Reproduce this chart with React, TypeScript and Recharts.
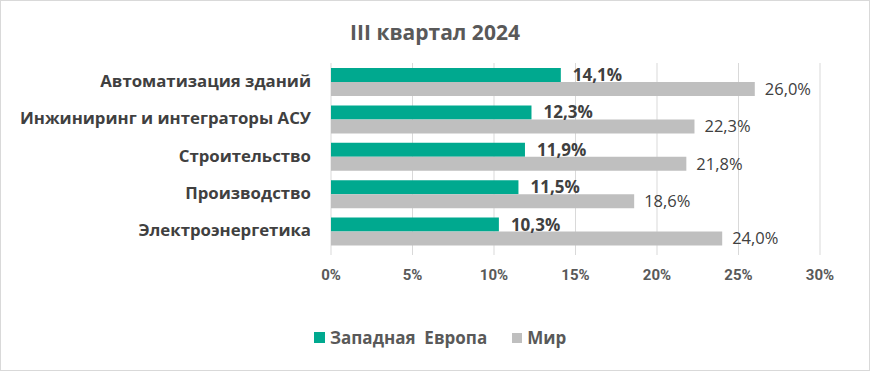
import {
  BarChart,
  Bar,
  XAxis,
  YAxis,
  CartesianGrid,
  LabelList,
} from "recharts";

const categories = [
  "Автоматизация зданий",
  "Инжиниринг и интеграторы АСУ",
  "Строительство",
  "Производство",
  "Электроэнергетика",
];
const europe = [14.1, 12.3, 11.9, 11.5, 10.3];
const world = [26.0, 22.3, 21.8, 18.6, 24.0];
const xTicks = [0, 5, 10, 15, 20, 25, 30];
const seriesNames = ["Западная  Европа", "Мир"];

const data = categories.map((name, i) => ({
  name,
  europe: europe[i],
  world: world[i],
}));

const FONT = "'Open Sans', sans-serif";
const TEAL = "#00a98f";
const GRAY = "#bfbfbf";
const fmt = (v: number) => v.toFixed(1).replace(".", ",") + "%";

const CategoryTick = (props: any) => {
  const { y, payload } = props;
  return (
    <text
      x={310}
      y={y}
      dy={5}
      textAnchor="end"
      fontFamily={FONT}
      fontSize={16.8}
      fontWeight="bold"
      fill="#404040"
    >
      {payload.value}
    </text>
  );
};

export default function App() {
  return (
    <div
      style={{
        position: "fixed",
        left: 0,
        top: 0,
        width: 868,
        height: 369,
        border: "1px solid #d9d9d9",
        background: "#fff",
      }}
    >
      <div
        style={{
          position: "absolute",
          top: 17,
          left: 0,
          width: 868,
          textAlign: "center",
          fontFamily: FONT,
          fontSize: 21,
          fontWeight: "bold",
          color: "#595959",
        }}
      >
        III квартал 2024
      </div>
      <BarChart
        width={868}
        height={369}
        data={data}
        layout="vertical"
        margin={{ top: 62, right: 49, left: 0, bottom: 80 }}
        barSize={14}
        barGap={0}
      >
        <CartesianGrid horizontal={false} stroke="#d9d9d9" />
        <XAxis
          type="number"
          domain={[0, 30]}
          ticks={xTicks}
          tickFormatter={(v) => v + "%"}
          axisLine={false}
          tickLine={{ stroke: "#d9d9d9" }}
          tickSize={5}
          tickMargin={14}
          height={40}
          tick={{
            fontFamily: "Roboto, sans-serif",
            fontSize: 15,
            fontWeight: "bold",
            fill: "#595959",
          }}
        />
        <YAxis
          type="category"
          dataKey="name"
          width={330}
          axisLine={false}
          tickLine={false}
          tick={<CategoryTick />}
        />
        <Bar dataKey="europe" fill={TEAL} isAnimationActive={false}>
          <LabelList
            dataKey="europe"
            position="right"
            offset={12}
            formatter={(v: any) => fmt(Number(v))}
            style={{
              fontFamily: FONT,
              fontSize: 17,
              fontWeight: "bold",
              fill: "#404040",
            }}
          />
        </Bar>
        <Bar dataKey="world" fill={GRAY} isAnimationActive={false}>
          <LabelList
            dataKey="world"
            position="right"
            offset={10}
            formatter={(v: any) => fmt(Number(v))}
            style={{
              fontFamily: FONT,
              fontSize: 16.5,
              fill: "#404040",
            }}
          />
        </Bar>
      </BarChart>
      <div
        style={{
          position: "absolute",
          top: 325,
          left: 313,
          display: "flex",
          alignItems: "center",
          fontFamily: FONT,
          fontSize: 17,
          fontWeight: "bold",
          color: "#595959",
          whiteSpace: "pre",
        }}
      >
        <span style={{ width: 11, height: 11, background: TEAL, marginRight: 5 }} />
        <span>{seriesNames[0]}</span>
        <span style={{ width: 10, height: 10, background: GRAY, marginLeft: 25, marginRight: 5 }} />
        <span>{seriesNames[1]}</span>
      </div>
    </div>
  );
}
